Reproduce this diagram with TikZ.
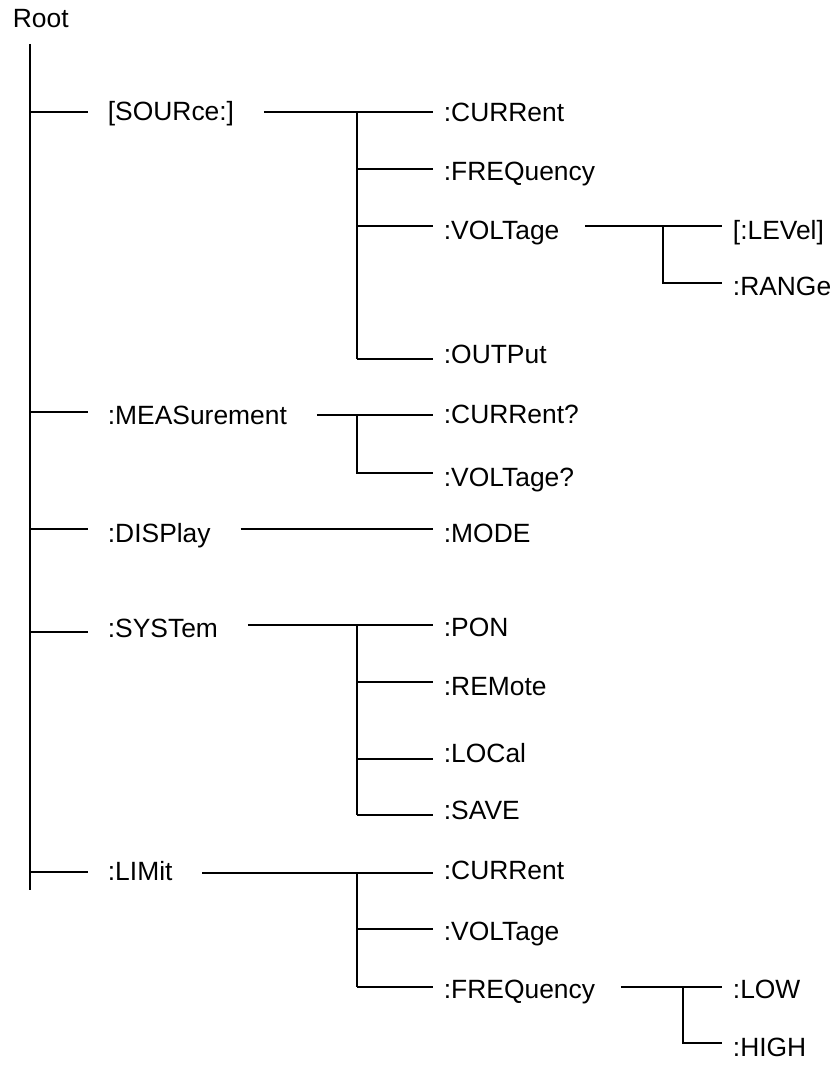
\documentclass[tikz,border=0pt]{standalone}
\usepackage{fontspec}
\setmainfont{Liberation Sans}

\begin{document}
\begin{tikzpicture}[
    x=0.5pt, y=-0.5pt,
    line width=0.9pt,
    lbl/.style={anchor=base west, inner xsep=5pt, inner ysep=0pt, font=\fontsize{13.2}{16}\selectfont},
    branch/.style={lbl, inner xsep=9.5pt},
    link/.style={shorten <=7.5pt},
    blink/.style={shorten <=5pt}
]
\useasboundingbox (0,0) rectangle (832,1068);

% root and trunk
\node[lbl] (root) at (2,28) {Root};
\coordinate (t0) at (30,44);
\coordinate (t1) at (30,112);
\coordinate (t2) at (30,412);
\coordinate (t3) at (30,529);
\coordinate (t4) at (30,632);
\coordinate (t5) at (30,872);
\coordinate (t9) at (30,890);
\draw (t0) -- (t9);

% first level
\node[branch] (src) at (88,121) {[SOURce:]};
\node[branch] (meas) at (88,424) {:MEASurement};
\node[branch] (disp) at (88,542) {:DISPlay};
\node[branch] (sys) at (88,637) {:SYSTem};
\node[branch] (lim) at (88,880) {:LIMit};
\draw (t1) -- (t1 -| src.west);
\draw (t2) -- (t2 -| meas.west);
\draw (t3) -- (t3 -| disp.west);
\draw (t4) -- (t4 -| sys.west);
\draw (t5) -- (t5 -| lim.west);

% [SOURce:]
\coordinate (s1) at (357,112);
\coordinate (s2) at (357,169);
\coordinate (s3) at (357,226);
\coordinate (s4) at (357,359);
\node[lbl] (cur) at (433,122) {:CURRent};
\node[lbl] (frq) at (433,181) {:FREQuency};
\node[lbl] (vlt) at (433,240) {:VOLTage};
\node[lbl] (out) at (433,364) {:OUTPut};
\draw[blink] (src.east |- s1) -- (s1 -| cur.west);
\draw (s1) -- (s4);
\draw (s2) -- (s2 -| frq.west);
\draw (s3) -- (s3 -| vlt.west);
\draw (s4) -- (s4 -| out.west);

% :VOLTage
\coordinate (v1) at (663,226);
\coordinate (v2) at (663,283);
\node[lbl] (lev) at (722,240) {[:LEVel]};
\node[lbl] (rng) at (722,296) {:RANGe};
\draw[link] (vlt.east |- v1) -- (v1 -| lev.west);
\draw (v1) -- (v2) -- (v2 -| rng.west);

% :MEASurement
\coordinate (m1) at (357,415);
\coordinate (m2) at (357,473);
\node[lbl] (curq) at (433,423) {:CURRent?};
\node[lbl] (vltq) at (433,486) {:VOLTage?};
\draw[blink] (meas.east |- m1) -- (m1 -| curq.west);
\draw (m1) -- (m2) -- (m2 -| vltq.west);

% :DISPlay
\node[lbl] (mode) at (433,542) {:MODE};
\draw[blink] (disp.east |- t3) -- (t3 -| mode.west);

% :SYSTem
\coordinate (y1) at (357,625);
\coordinate (y2) at (357,682);
\coordinate (y3) at (357,759);
\coordinate (y4) at (357,815);
\node[lbl] (pon) at (433,636) {:PON};
\node[lbl] (rem) at (433,695) {:REMote};
\node[lbl] (loc) at (433,762) {:LOCal};
\node[lbl] (sav) at (433,819) {:SAVE};
\draw[blink] (sys.east |- y1) -- (y1 -| pon.west);
\draw (y1) -- (y4);
\draw (y2) -- (y2 -| rem.west);
\draw (y3) -- (y3 -| loc.west);
\draw (y4) -- (y4 -| sav.west);

% :LIMit
\coordinate (l1) at (357,873);
\coordinate (l2) at (357,929);
\coordinate (l3) at (357,987);
\node[lbl] (lcur) at (433,879) {:CURRent};
\node[lbl] (lvlt) at (433,940) {:VOLTage};
\node[lbl] (lfrq) at (433,998) {:FREQuency};
\draw[blink] (lim.east |- l1) -- (l1 -| lcur.west);
\draw (l1) -- (l3);
\draw (l2) -- (l2 -| lvlt.west);
\draw (l3) -- (l3 -| lfrq.west);

% :FREQuency
\coordinate (f1) at (683,987);
\coordinate (f2) at (683,1043);
\node[lbl] (low) at (722,998) {:LOW};
\node[lbl] (high) at (722,1056) {:HIGH};
\draw[link] (lfrq.east |- f1) -- (f1 -| low.west);
\draw (f1) -- (f2) -- (f2 -| high.west);
\end{tikzpicture}
\end{document}
